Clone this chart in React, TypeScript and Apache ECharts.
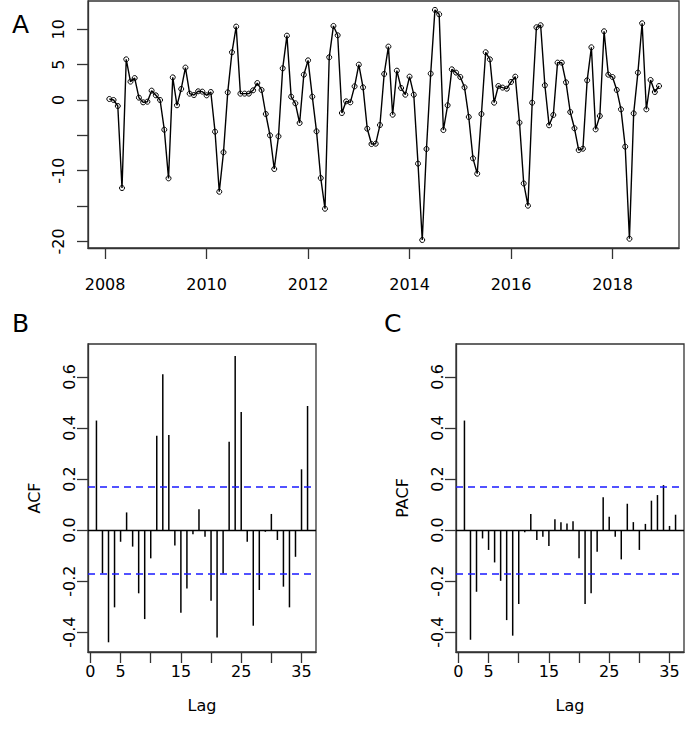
import React, { useEffect, useRef } from "react";
import * as echarts from "echarts";

// Monthly series, Feb 2008 .. Dec 2018
const START_YEAR = 2008;
const START_MONTH = 2;
const tsValues = [
  0.14, 0.0, -0.85, -12.45, 5.75, 2.6, 3.1, 0.33, -0.33, -0.24, 1.32,
  0.66, 0.0, -4.2, -11.08, 3.2, -0.75, 1.56, 4.58, 0.9, 0.7, 1.23,
  1.18, 0.66, 1.13, -4.48, -12.97, -7.4, 1.08, 6.75, 10.38, 0.9, 0.9,
  0.9, 1.37, 2.4, 1.42, -1.98, -5.0, -9.76, -5.14, 4.48, 9.1, 0.47,
  -0.47, -3.25, 3.58, 5.61, 0.47, -4.43, -11.04, -15.38, 6.04, 10.47, 9.15,
  -1.84, -0.19, -0.33, 1.93, 5.0, 1.79, -4.06, -6.23, -6.18, -3.54, 3.68,
  7.55, -2.08, 4.15, 1.7, 0.75, 3.3, 0.75, -9.0, -19.8, -6.93, 3.73,
  12.74, 12.12, -4.25, -0.75, 4.34, 3.87, 3.25, 1.79, -2.4, -8.25, -10.42,
  -1.98, 6.75, 5.75, -0.38, 1.98, 1.75, 1.6, 2.55, 3.3, -3.2, -11.8,
  -14.95, -0.38, 10.28, 10.57, 2.08, -3.58, -2.12, 5.28, 5.28, 2.5, -1.7,
  -4.0, -7.08, -6.89, 2.78, 7.45, -4.15, -2.26, 9.72, 3.58, 3.25, 1.42,
  -1.32, -6.6, -19.62, -1.89, 3.87, 10.85, -1.32, 2.83, 1.13, 1.98,
];

const lags = [
  1, 2, 3, 4, 5, 6, 7, 8, 9, 10, 11, 12, 13, 14, 15, 16, 17, 18,
  19, 20, 21, 22, 23, 24, 25, 26, 27, 28, 29, 30, 31, 32, 33, 34, 35, 36,
];
const acfValues = [
  0.429, -0.17, -0.44, -0.303, -0.046, 0.069, -0.065, -0.248, -0.349, -0.111, 0.369, 0.61,
  0.372, -0.061, -0.324, -0.229, -0.017, 0.081, -0.026, -0.277, -0.421, -0.17, 0.346, 0.682,
  0.463, -0.046, -0.375, -0.235, -0.007, 0.063, -0.039, -0.222, -0.303, -0.105, 0.238, 0.486,
];
const pacfValues = [
  0.429, -0.43, -0.242, -0.033, -0.078, -0.127, -0.199, -0.353, -0.414, -0.29, -0.009, 0.063,
  -0.039, -0.026, -0.063, 0.042, 0.03, 0.026, 0.034, -0.111, -0.29, -0.248, -0.085, 0.128,
  0.052, -0.026, -0.115, 0.103, 0.031, -0.078, 0.024, 0.115, 0.137, 0.176, 0.016, 0.06,
];
const ciLevel = 0.1712;

const yearTicks = [2008, 2010, 2012, 2014, 2016, 2018];
const tsYTicks = [-20, -15, -10, -5, 0, 5, 10];
const tsYLabels = [-20, -10, 0, 5, 10];
const lagTicks = [0, 5, 10, 15, 20, 25, 30, 35];
const lagLabels = [0, 5, 15, 25, 35];
const corrTicks = [-0.4, -0.2, 0, 0.2, 0.4, 0.6];

const FONT = "DejaVu Sans";
const AXIS_COLOR = "#333";

export default function App() {
  const ref = useRef<HTMLDivElement>(null);

  useEffect(() => {
    if (!ref.current) return;
    const chart = echarts.init(ref.current, undefined, { renderer: "svg" });

    const tsData = tsValues.map((v, i) => [START_YEAR + (START_MONTH - 1 + i) / 12, v]);
    const acfData = lags.map((l, i) => [l, acfValues[i]]);
    const pacfData = lags.map((l, i) => [l, pacfValues[i]]);

    const label = (extra: any) => ({
      fontFamily: FONT,
      fontSize: 16,
      color: "#000",
      ...extra,
    });
    const tick = (values: number[]) => ({
      show: true,
      inside: false,
      length: 11,
      customValues: values,
      lineStyle: { color: AXIS_COLOR, width: 1.3 },
    });
    const axisLine = { show: true, onZero: false, lineStyle: { color: AXIS_COLOR, width: 1.3 } };

    const renderStick = (params: any, api: any) => {
      const p0 = api.coord([api.value(0), 0]);
      const p1 = api.coord([api.value(0), api.value(1)]);
      return {
        type: "line",
        shape: { x1: p0[0], y1: p0[1], x2: p1[0], y2: p1[1] },
        style: { stroke: "#000", lineWidth: 1.5 },
      };
    };

    const refLines = {
      silent: true,
      symbol: "none",
      label: { show: false },
      data: [
        { yAxis: 0, lineStyle: { color: "#000", width: 1.3, type: "solid" } },
        { yAxis: ciLevel, lineStyle: { color: "#1a1aff", width: 1.5, type: [7, 5] } },
        { yAxis: -ciLevel, lineStyle: { color: "#1a1aff", width: 1.5, type: [7, 5] } },
      ],
    };

    const corrY = (idx: number, name: string) => ({
      type: "value",
      gridIndex: idx,
      min: -0.478,
      max: 0.729,
      name,
      nameLocation: "middle",
      nameGap: 46,
      nameTextStyle: { fontFamily: FONT, fontSize: 16, color: "#000" },
      axisLine,
      axisTick: tick(corrTicks),
      splitLine: { show: false },
      axisLabel: label({
        rotate: 90,
        margin: 11,
        customValues: corrTicks,
        formatter: (v: number) => v.toFixed(1),
      }),
    });
    const lagX = (idx: number) => ({
      type: "value",
      gridIndex: idx,
      min: -0.4,
      max: 37.4,
      name: "Lag",
      nameLocation: "middle",
      nameGap: 45,
      nameTextStyle: { fontFamily: FONT, fontSize: 16, color: "#000" },
      axisLine,
      axisTick: tick(lagTicks),
      splitLine: { show: false },
      axisLabel: label({ margin: 11, customValues: lagLabels }),
    });

    const gridStyle = { show: true, borderColor: AXIS_COLOR, borderWidth: 1.3, containLabel: false };

    chart.setOption({
      animation: false,
      backgroundColor: "#fff",
      textStyle: { fontFamily: FONT },
      grid: [
        { ...gridStyle, left: 88, top: 1, width: 591, height: 247 },
        { ...gridStyle, left: 88, top: 344, width: 228, height: 308 },
        { ...gridStyle, left: 456, top: 344, width: 228, height: 308 },
      ],
      xAxis: [
        {
          type: "value",
          gridIndex: 0,
          min: 2007.663,
          max: 2019.31,
          axisLine,
          axisTick: tick(yearTicks),
          splitLine: { show: false },
          axisLabel: label({ margin: 28, customValues: yearTicks, formatter: (v: number) => String(v) }),
        },
        lagX(1),
        lagX(2),
      ],
      yAxis: [
        {
          type: "value",
          gridIndex: 0,
          min: -20.93,
          max: 14.0,
          axisLine,
          axisTick: tick(tsYTicks),
          splitLine: { show: false },
          axisLabel: label({ rotate: 90, margin: 22, customValues: tsYLabels }),
        },
        corrY(1, "ACF"),
        corrY(2, "PACF"),
      ],
      graphic: [
        { type: "text", left: 12, top: 12, style: { text: "A", font: `25px ${FONT}`, fill: "#000" } },
        { type: "text", left: 12, top: 311, style: { text: "B", font: `25px ${FONT}`, fill: "#000" } },
        { type: "text", left: 384, top: 311, style: { text: "C", font: `25px ${FONT}`, fill: "#000" } },
      ],
      series: [
        {
          type: "line",
          xAxisIndex: 0,
          yAxisIndex: 0,
          data: tsData,
          showSymbol: true,
          symbol: "circle",
          symbolSize: 5,
          lineStyle: { color: "#000", width: 1.4 },
          itemStyle: { color: "rgba(0,0,0,0)", borderColor: "#000", borderWidth: 1 },
          z: 3,
        },
        {
          type: "custom",
          xAxisIndex: 1,
          yAxisIndex: 1,
          renderItem: renderStick,
          data: acfData,
          markLine: refLines,
        },
        {
          type: "custom",
          xAxisIndex: 2,
          yAxisIndex: 2,
          renderItem: renderStick,
          data: pacfData,
          markLine: refLines,
        },
      ],
    });

    return () => chart.dispose();
  }, []);

  return (
    <div
      ref={ref}
      style={{ position: "absolute", left: 0, top: 0, width: 685, height: 731, background: "#fff" }}
    />
  );
}
